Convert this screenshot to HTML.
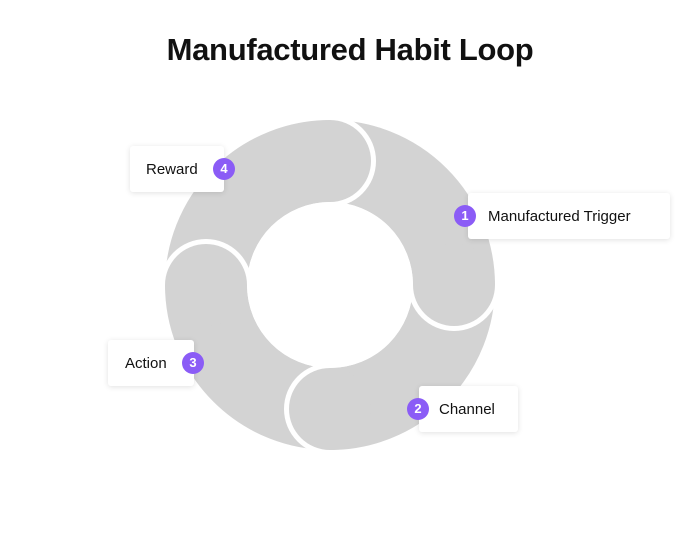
<!DOCTYPE html>
<html><head><style>
body{margin:0;width:700px;height:540px;background:#fff;font-family:"Liberation Sans",sans-serif;position:relative;overflow:hidden}
h1{position:absolute;top:32px;left:0;width:700px;text-align:center;margin:0;font-size:31px;font-weight:bold;color:#111;letter-spacing:-0.3px}
.b{position:absolute;background:#fff;box-shadow:0 1px 6px rgba(0,0,0,0.12);border-radius:3px;font-size:15px;color:#111;line-height:48px;height:46px;box-sizing:border-box}
.n{position:absolute;width:22px;height:22px;border-radius:50%;background:#8b5cf6;color:#fff;font-size:13px;font-weight:bold;text-align:center;line-height:22px}
</style></head><body>
<h1>Manufactured Habit Loop</h1>
<svg width="700" height="540" style="position:absolute;left:0;top:0">
<defs>
<clipPath id="c1"><rect x="330" y="0" width="400" height="540"/></clipPath>
<clipPath id="c2"><rect x="0" y="285" width="700" height="300"/></clipPath>
<clipPath id="c3"><rect x="0" y="0" width="330" height="540"/></clipPath>
<clipPath id="c4"><rect x="0" y="0" width="700" height="285"/></clipPath>
</defs>
<circle cx="330" cy="285" r="124" fill="none" stroke="#d3d3d3" stroke-width="82"/>
<circle cx="330" cy="161" r="46" fill="#fff" clip-path="url(#c1)"/><circle cx="330" cy="161" r="41" fill="#d3d3d3"/>
<circle cx="454" cy="285" r="46" fill="#fff" clip-path="url(#c2)"/><circle cx="454" cy="285" r="41" fill="#d3d3d3"/>
<circle cx="330" cy="409" r="46" fill="#fff" clip-path="url(#c3)"/><circle cx="330" cy="409" r="41" fill="#d3d3d3"/>
<circle cx="206" cy="285" r="46" fill="#fff" clip-path="url(#c4)"/><circle cx="206" cy="285" r="41" fill="#d3d3d3"/>
<circle cx="330" cy="285" r="83" fill="#fff"/>
</svg>
<div class="b" style="left:130px;top:146px;width:94px;padding-left:16px">Reward</div>
<div class="n" style="left:213px;top:158px">4</div>
<div class="b" style="left:468px;top:193px;width:202px;padding-left:20px">Manufactured Trigger</div>
<div class="n" style="left:454px;top:205px">1</div>
<div class="b" style="left:108px;top:340px;width:86px;padding-left:17px">Action</div>
<div class="n" style="left:182px;top:352px">3</div>
<div class="b" style="left:419px;top:386px;width:99px;padding-left:20px">Channel</div>
<div class="n" style="left:407px;top:398px">2</div>
</body></html>
